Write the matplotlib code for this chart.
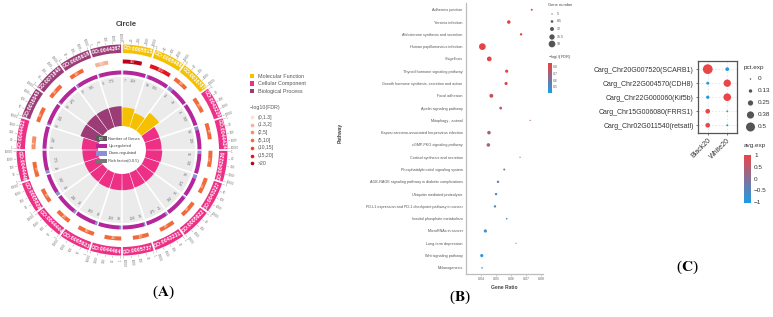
import numpy as np
import matplotlib as mpl
import matplotlib.pyplot as plt
from matplotlib.colors import LinearSegmentedColormap, Normalize
from matplotlib.cm import ScalarMappable

plt.rcParams['font.family'] = ['Liberation Sans', 'DejaVu Sans']
plt.rcParams['mathtext.fontset'] = 'stix'

# ---------------------------------------------------------------------------
# Panel A data: GO circle (clockwise from 12 o'clock)
# ---------------------------------------------------------------------------
go_ids = ['GO:0005515', 'GO:0005488', 'GO:0016787', 'GO:0043229', 'GO:0044424',
          'GO:0043226', 'GO:0043227', 'GO:0005622', 'GO:0043231', 'GO:0005737',
          'GO:0044464', 'GO:0005623', 'GO:0044444', 'GO:0005829', 'GO:0044446',
          'GO:0044422', 'GO:0016043', 'GO:0071840', 'GO:0005618', 'GO:0044267']
go_class = ['MF'] * 3 + ['CC'] * 13 + ['BP'] * 4
bg_genes = [880, 2400, 190, 260, 320, 300, 280, 330, 240, 300,
            380, 380, 210, 160, 200, 90, 220, 230, 180, 100]
go_fdr = [24, 17, 8, 7, 8, 7, 7, 8, 7, 8, 7, 8, 7, 7, 6, 4, 7, 7, 6, 1.8]
up_genes = [269, 303, 79, 150, 295, 361, 275, 342, 275, 258,
            260, 260, 241, 142, 173, 237, 205, 275, 195, 170]
down_genes = [7, 19, 21, 4, 54, 56, 54, 15, 21, 15,
              19, 26, 26, 25, 26, 8, 14, 14, 17, 6]
rich_factor = [0.31, 0.25, 0.37, 0.26, 0.26, 0.27, 0.26, 0.26, 0.26, 0.27,
               0.27, 0.27, 0.26, 0.26, 0.26, 0.27, 0.33, 0.33, 0.33, 0.33]
scale_labels = ['1', '10', '100', '1000', '10000']

class_names = {'MF': 'Molecular Function', 'CC': 'Cellular Component', 'BP': 'Biological Process'}
class_colors = {'MF': '#f5c000', 'CC': '#ee2f86', 'BP': '#9c3c77'}
fdr_bins = ['(0,1.3]', '(1.3,2]', '(2,5]', '(5,10]', '(10,15]', '(15,20]', '>20']
fdr_edges = [0, 1.3, 2, 5, 10, 15, 20, np.inf]
fdr_colors = ['#fde0d0', '#f8b396', '#f58f68', '#f26a3a', '#ee4128', '#e5141c', '#bf0019']

# ---------------------------------------------------------------------------
# Panel B data: KEGG bubble plot
# ---------------------------------------------------------------------------
pathways = ['Adherens junction', 'Yersinia infection', 'Aldosterone synthesis and secretion',
            'Human papillomavirus infection', 'Shigellosis', 'Thyroid hormone signaling pathway',
            'Growth hormone synthesis, secretion and action', 'Focal adhesion',
            'Apelin signaling pathway', 'Mitophagy - animal',
            'Kaposi sarcoma-associated herpesvirus infection', 'cGMP-PKG signaling pathway',
            'Cortisol synthesis and secretion', 'Phosphatidylinositol signaling system',
            'AGE-RAGE signaling pathway in diabetic complications', 'Ubiquitin mediated proteolysis',
            'PD-L1 expression and PD-1 checkpoint pathway in cancer', 'Inositol phosphate metabolism',
            'MicroRNAs in cancer', 'Long-term depression', 'Wnt signaling pathway', 'Melanogenesis']
gene_ratio = [0.0738, 0.0585, 0.0667, 0.0409, 0.0455, 0.0571, 0.0567, 0.0469, 0.0531, 0.0727,
              0.0453, 0.0449, 0.0660, 0.0555, 0.0513, 0.0500, 0.0493, 0.0571, 0.0429, 0.0633,
              0.0405, 0.0407]
gene_number = [7, 11, 8, 19, 14, 10, 10, 12, 9, 5, 11, 11, 5, 7, 8, 8, 8, 6, 10, 5, 10, 6]
path_fdr = [0.85, 0.84, 0.84, 0.83, 0.83, 0.82, 0.81, 0.77, 0.76, 0.72, 0.70, 0.69,
            0.66, 0.58, 0.56, 0.55, 0.55, 0.53, 0.50, 0.47, 0.44, 0.42]
gene_number_legend = [5, 8.5, 12, 15.5, 19]

# ---------------------------------------------------------------------------
# Panel C data: dot plot
# ---------------------------------------------------------------------------
genes_c = ['Carg_Chr20G007520(SCARB1)', 'Carg_Chr22G004570(CDH8)', 'Carg_Chr22G000060(Kif5b)',
           'Carg_Chr15G006080(FRRS1)', 'Carg_Chr02G011540(retsatl)']
groups_c = ['Black20', 'White20']
pct_black = [0.55, 0.10, 0.12, 0.21, 0.21]
pct_white = [0.15, 0.39, 0.41, 0.02, 0.03]
avg_black = [1.0, -1.0, -1.0, 1.0, 1.0]
avg_white = [-1.0, 1.0, 1.0, -1.0, -1.0]
pct_legend = [0, 0.13, 0.25, 0.38, 0.5]

# ---------------------------------------------------------------------------
W, H = 773, 317
fig = plt.figure(figsize=(W / 100, H / 100), dpi=100)


def px_axes(x0, y0, x1, y1, **kw):
    return fig.add_axes([x0 / W, 1 - y1 / H, (x1 - x0) / W, (y1 - y0) / H], **kw)


def px_s(d):
    # pixel diameter -> scatter area in points^2
    return (d * 72 / 100) ** 2


def tangent_rot(theta):
    deg = np.degrees(theta)
    return ((-deg + 90) % 180) - 90


cx, cy, R = 122, 150, 125
ax = px_axes(cx - R, cy - R, cx + R, cy + R, projection='polar')
ax.set_theta_zero_location('N')
ax.set_theta_direction(-1)
ax.set_ylim(0, R)
ax.axis('off')

n = len(go_ids)
span = 2 * np.pi / n
gap = np.radians(1.0)
starts = np.arange(n) * span + gap / 2
inner = span - gap
cols = [class_colors[c] for c in go_class]

# grey disc with white sector dividers
for k in range(n):
    ax.bar(k * span, 49, width=span, bottom=24, align='edge', color='#ebebeb',
           linewidth=0, zorder=0.5)
for t in np.arange(n) * span:
    ax.plot([t, t], [24, 73], color='white', lw=1.2, zorder=1)

# rich factor ring
rf_h = np.array(rich_factor) / 0.5 * 30
ax.bar(starts, rf_h, width=inner, bottom=24, align='edge', color=cols, linewidth=0, zorder=2)

# up / down regulated ring
up = np.array(up_genes)
down = np.array(down_genes)
dfrac = down / (up + down)
ax.bar(starts, 4, width=inner * dfrac, bottom=75.5, align='edge', color='#8a8fd6', linewidth=0)
ax.bar(starts + inner * dfrac, 4, width=inner * (1 - dfrac), bottom=75.5, align='edge',
       color='#b5269b', linewidth=0)
for i in range(n):
    t = starts[i] + np.radians(2.2)
    ax.text(t, 69, str(down[i]), fontsize=2.4, color='#666', ha='center', va='center',
            rotation=tangent_rot(t), rotation_mode='anchor')
    t = starts[i] + inner * (dfrac[i] + (1 - dfrac[i]) / 2)
    ax.text(t, 69, str(up[i]), fontsize=2.4, color='#666', ha='center', va='center',
            rotation=tangent_rot(t), rotation_mode='anchor')

# background gene ring coloured by -log10(FDR)
bfrac = 0.02 + np.log10(bg_genes) / 4 * 0.96
bcols = [fdr_colors[np.searchsorted(fdr_edges, v) - 1] for v in go_fdr]
ax.bar(starts, 4, width=inner * bfrac, bottom=86.5, align='edge', color=bcols, linewidth=0)
for i in range(n):
    t = starts[i] + inner * bfrac[i] / 2
    ax.text(t, 88.5, str(bg_genes[i]), fontsize=2.0, color='white', ha='center', va='center',
            rotation=tangent_rot(t), rotation_mode='anchor')

# GO term ring
ax.bar(starts, 8.5, width=inner, bottom=97, align='edge', color=cols, linewidth=0)
for i in range(n):
    t = starts[i] + inner / 2
    ax.text(t, 101.2, go_ids[i], fontsize=3.7, color='white', fontweight='bold',
            ha='center', va='center', rotation=tangent_rot(t), rotation_mode='anchor')

# outer log scale
for i in range(n):
    for j, lab in enumerate(scale_labels):
        t = starts[i] + inner * (0.02 + j * 0.24)
        ax.plot([t, t], [106.3, 108.3], color='#999', lw=0.3)
        deg = np.degrees(t)
        if deg < 180:
            rot, ha = 90 - deg, 'left'
        else:
            rot, ha = 270 - deg, 'right'
        ax.text(t, 109.2, lab, fontsize=2.2, color='#777', ha=ha, va='center',
                rotation=rot, rotation_mode='anchor')

# ---------------------------------------------------------------------------
# Panel B
# ---------------------------------------------------------------------------
cmap_b = LinearSegmentedColormap.from_list('fdr', ['#17a0ec', '#ef3e3c'])
norm_b = Normalize(0.41, 0.86)


def gsize(v):
    return 1.2 + (np.asarray(v, dtype=float) - 5) / 14 * 5.5


axb = px_axes(466, 3, 543, 274)
yb = np.arange(len(pathways))
axb.scatter(gene_ratio, yb, s=px_s(gsize(gene_number)), c=path_fdr, cmap=cmap_b, norm=norm_b,
            linewidths=0, zorder=3)
axb.set_xlim(0.030, 0.0813)
axb.set_ylim(21.5, -0.55)
axb.set_yticks(yb)
axb.set_yticklabels(pathways, fontsize=2.7, color='#555')
axb.set_xticks([0.04, 0.05, 0.06, 0.07, 0.08])
axb.set_xticklabels(['0.04', '0.05', '0.06', '0.07', '0.08'], fontsize=2.5, color='#666')
axb.tick_params(axis='y', length=0, pad=2.4)
axb.tick_params(axis='x', length=1.2, width=0.4, color='#aaa', pad=1.2)
for s in ['top', 'right']:
    axb.spines[s].set_visible(False)
for s in ['left', 'bottom']:
    axb.spines[s].set_color('#bdbdbd')
    axb.spines[s].set_linewidth(0.9)
axb.set_xlabel('Gene Ratio', fontsize=3.6, fontweight='bold', color='#444', labelpad=2.5)
axb.set_ylabel('Pathway', fontsize=3.6, fontweight='bold', color='#444')
axb.yaxis.set_label_coords((343 - 466) / 77, (274 - 133) / 271)

# legend for B (clipped by panel C as in the original)
lb = px_axes(545, 0, 572, 100)
lb.set_xlim(545, 572)
lb.set_ylim(100, 0)
lb.axis('off')
lb.text(547.5, 5, 'Gene number', fontsize=2.9, color='#444', va='center', clip_on=True)
ly = [14, 21.5, 29, 37, 44]
lb.scatter([552] * 5, ly, s=px_s(gsize(gene_number_legend)), color='#555', linewidths=0, clip_on=False)
for yy, v in zip(ly, gene_number_legend):
    lb.text(557, yy, f'{v:g}', fontsize=2.6, color='#555', va='center', clip_on=True)
lb.text(547.5, 57, r'$-$log$_{10}$(FDR)', fontsize=2.8, color='#444', va='center', clip_on=True)

caxb = px_axes(548, 63, 552, 93)
cbb = fig.colorbar(ScalarMappable(norm=norm_b, cmap=cmap_b), cax=caxb)
cbb.outline.set_visible(False)
cbb.set_ticks([0.5, 0.6, 0.7, 0.8])
caxb.tick_params(labelsize=2.5, length=0, pad=0.8, colors='#666')

# ---------------------------------------------------------------------------
# Panel C
# ---------------------------------------------------------------------------
cmap_c = LinearSegmentedColormap.from_list('avg', ['#1d9ce6', '#ea4548'])
norm_c = Normalize(-1.05, 1.02)


def psize(v):
    return 1.5 + np.asarray(v, dtype=float) / 0.5 * 7.5


axc = px_axes(698, 61, 737, 133)
yc = np.arange(len(genes_c))
axc.scatter(np.zeros(len(yc)), yc, s=px_s(psize(pct_black)), c=avg_black, cmap=cmap_c,
            norm=norm_c, linewidths=0, zorder=3)
axc.scatter(np.ones(len(yc)), yc, s=px_s(psize(pct_white)), c=avg_white, cmap=cmap_c,
            norm=norm_c, linewidths=0, zorder=3)
axc.set_xlim(-0.5, 1.5)
axc.set_ylim(4.55, -0.58)
axc.set_xticks([0, 1])
axc.set_xticklabels(groups_c, rotation=45, ha='right', rotation_mode='anchor', fontsize=5, color='#333')
axc.set_yticks(yc)
axc.set_yticklabels(genes_c, fontsize=5, color='#333')
axc.tick_params(length=1.5, width=0.5, color='#444', pad=1.5)
axc.grid(True, ls=(0, (3, 3)), lw=0.4, color='#d8d8d8')
axc.set_axisbelow(True)
for s in axc.spines.values():
    s.set_color('#555')
    s.set_linewidth(0.9)

# ---------------------------------------------------------------------------
# Overlay for legends and panel letters (pixel coordinates)
# ---------------------------------------------------------------------------
ov = fig.add_axes([0, 0, 1, 1])
ov.set_xlim(0, W)
ov.set_ylim(H, 0)
ov.axis('off')

ov.text(126, 24, 'Circle', fontsize=5.5, fontweight='bold', color='#444', ha='center', va='center')

# centre legend of the circle
centre_items = [('Number of Genes', '#5a5a5a'), ('Up-regulated', '#b5269b'),
                ('Down-regulated', '#8a8fd6'), ('Rich factor(0-0.5)', '#777777')]
for k, (lab, c) in enumerate(centre_items):
    yy = 138.5 + k * 7.4
    ov.add_patch(plt.Rectangle((96, yy - 2.2), 10.5, 4.4, color=c, lw=0))
    ov.text(108.3, yy, lab, fontsize=2.9, color='#444', va='center')
ov.text(101.2, 138.5, '100', fontsize=2.0, color='white', ha='center', va='center')

# class legend
for k, key in enumerate(['MF', 'CC', 'BP']):
    yy = 76 + k * 7.5
    ov.add_patch(plt.Rectangle((250, yy - 2.2), 4.4, 4.4, color=class_colors[key], lw=0))
    ov.text(258, yy, class_names[key], fontsize=3.9, color='#555', va='center')
ov.text(250, 108, '\u2212log10(FDR)', fontsize=3.8, color='#555', va='center')
for k, (lab, c) in enumerate(zip(fdr_bins, fdr_colors)):
    yy = 117 + k * 7.7
    ov.scatter([252.3], [yy], s=px_s(3.6), color=c, linewidths=0)
    ov.text(258, yy, lab, fontsize=3.7, color='#555', va='center')

# pct.exp legend
ov.text(744, 67, 'pct.exp', fontsize=4.6, color='#333', va='center')
lyc = [79, 91, 103, 115, 127]
ov.scatter([750.5] * 5, lyc, s=px_s(psize(pct_legend)), color='#555', linewidths=0)
for yy, v in zip(lyc, pct_legend):
    ov.text(757.5, yy, f'{v:g}', fontsize=4.6, color='#333', va='center')
ov.text(744, 146, 'avg.exp', fontsize=4.6, color='#333', va='center')

caxc = px_axes(744, 155, 751, 203)
cbc = fig.colorbar(ScalarMappable(norm=norm_c, cmap=cmap_c), cax=caxc)
cbc.outline.set_visible(False)
cbc.set_ticks([-1, -0.5, 0, 0.5, 1])
cbc.set_ticklabels(['\u22121', '\u22120.5', '0', '0.5', '1'])
caxc.tick_params(labelsize=4.6, length=1.5, width=0.4, color='white', pad=0.8, labelcolor='#333')

# panel letters
for lab, x, y in [('A', 163, 292), ('B', 460, 297), ('C', 687, 267)]:
    ov.text(x, y, '($\\mathbf{' + lab + '}$)', fontsize=11, family='Liberation Serif',
            ha='center', va='center', color='black')

fig.savefig('out.png', dpi=100)
